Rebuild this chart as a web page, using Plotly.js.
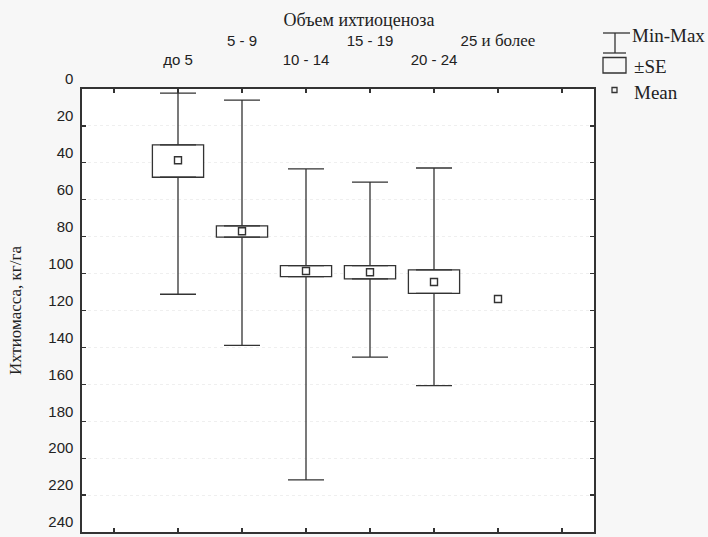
<!DOCTYPE html>
<html><head><meta charset="utf-8">
<script src="https://cdn.plot.ly/plotly-3.0.1.min.js"></script>
<style>html,body{margin:0;padding:0;background:#f7f7f7}</style>
</head><body><div id="chart" style="width:708px;height:537px"></div>
<script>
// ---- data ----
const categories = ['до 5', '5 - 9', '10 - 14', '15 - 19', '20 - 24', '25 и более'];
const minValues  = [2.2, 6.0, 43.3, 50.4, 42.8, null];
const seLow      = [30.3, 74.1, 95.7, 95.7, 98.0, null];
const meanValues = [38.6, 77.1, 98.6, 99.3, 104.6, 113.8];
const seHigh     = [47.8, 80.2, 101.7, 102.9, 110.7, null];
const maxValues  = [111.2, 138.9, 211.8, 145.3, 160.7, null];
const yTickValues = [0, 20, 40, 60, 80, 100, 120, 140, 160, 180, 200, 220, 240];

const SERIF = 'Liberation Serif, Times New Roman, serif';
const SANS = 'Liberation Sans, Arial, sans-serif';
const INK = '#333333';

const xPos = categories.map((c, i) => i + 1);
const idx = categories.map((c, i) => i).filter(i => seLow[i] !== null);

const tickText = [''].concat(categories.map((c, i) => {
  let t = c;
  if (c.indexOf(' и ') > -1) {
    const parts = c.split(' и ');
    t = parts[0] + '<span style="font-family:Liberation Serif;font-size:17px"> и ' + parts[1] + '</span>';
  }
  return (i % 2 === 1) ? t + '<br>&nbsp;' : t;
})).concat(['']);

const errStyle = {type: 'data', symmetric: false, width: 18, thickness: 1.3, color: INK};

const traces = [
  // ±SE boxes
  {
    type: 'bar',
    x: idx.map(i => xPos[i]),
    base: idx.map(i => seLow[i]),
    y: idx.map(i => seHigh[i] - seLow[i]),
    width: 0.8,
    marker: {color: '#ffffff', line: {color: INK, width: 1.3}},
    hoverinfo: 'skip', showlegend: false
  },
  // upper whiskers (towards Min)
  {
    type: 'scatter', mode: 'markers',
    x: idx.map(i => xPos[i]),
    y: idx.map(i => seLow[i]),
    marker: {size: 1, opacity: 0},
    error_y: Object.assign({}, errStyle, {
      array: idx.map(i => 0),
      arrayminus: idx.map(i => seLow[i] - minValues[i])
    }),
    hoverinfo: 'skip', showlegend: false
  },
  // lower whiskers (towards Max)
  {
    type: 'scatter', mode: 'markers',
    x: idx.map(i => xPos[i]),
    y: idx.map(i => seHigh[i]),
    marker: {size: 1, opacity: 0},
    error_y: Object.assign({}, errStyle, {
      array: idx.map(i => maxValues[i] - seHigh[i]),
      arrayminus: idx.map(i => 0)
    }),
    hoverinfo: 'skip', showlegend: false
  },
  // means
  {
    type: 'scatter', mode: 'markers',
    x: xPos, y: meanValues,
    marker: {symbol: 'square-open', size: 7, color: INK, line: {width: 1.4, color: INK}},
    hoverinfo: 'skip', showlegend: false
  }
];

// legend drawn in pixel space converted to paper
const L = 82, T = 89, W = 512, H = 443;
const px = x => (x - L) / W;
const py = y => (T + H - y) / H;
const lineShape = (x0, y0, x1, y1) => ({type: 'line', xref: 'paper', yref: 'paper',
  x0: px(x0), y0: py(y0), x1: px(x1), y1: py(y1), line: {color: INK, width: 1.3}});

const shapes = [
  lineShape(603, 33, 630, 33),
  lineShape(615, 33, 615, 53),
  lineShape(603, 53, 626, 53),
  {type: 'rect', xref: 'paper', yref: 'paper', x0: px(603), y0: py(57.5), x1: px(626), y1: py(73),
   line: {color: INK, width: 1.3}, fillcolor: 'rgba(0,0,0,0)'},
  {type: 'rect', xref: 'paper', yref: 'paper', x0: px(612), y0: py(87.5), x1: px(617), y1: py(92.5),
   line: {color: INK, width: 1.3}, fillcolor: 'rgba(0,0,0,0)'}
];

const legendText = (txt, x, y) => ({text: txt, xref: 'paper', yref: 'paper', x: px(x), y: py(y),
  xanchor: 'left', yanchor: 'middle', showarrow: false, font: {family: SERIF, size: 19, color: '#222'}});

const annotations = [
  legendText('Min-Max', 630, 35),
  legendText('±SE', 632, 66),
  legendText('Mean', 632, 92)
];

const layout = {
  width: 708, height: 537,
  margin: {l: L, r: 708 - L - W, t: T, b: 537 - T - H},
  paper_bgcolor: '#f7f7f7',
  plot_bgcolor: '#ffffff',
  showlegend: false,
  bargap: 0,
  title: {text: 'Объем ихтиоценоза', x: 359 / 708, xanchor: 'center', y: 1 - 20 / 537, yanchor: 'middle',
          yref: 'container', xref: 'container', font: {family: SERIF, size: 18, color: '#222'}},
  xaxis: {
    side: 'top', range: [-0.5, 7.5], tickmode: 'array',
    tickvals: [0, 1, 2, 3, 4, 5, 6, 7], ticktext: tickText,
    ticks: 'inside', ticklen: 4, tickwidth: 1.2, tickcolor: INK,
    showline: true, linecolor: INK, linewidth: 1.6, mirror: 'ticks',
    showgrid: false, zeroline: false, tickangle: 0,
    ticklabelstandoff: 16,
    tickfont: {family: SANS, size: 15, color: '#222'}
  },
  yaxis: {
    range: [240, 0], tickmode: 'array', tickvals: yTickValues,
    ticks: 'inside', ticklen: 4, tickwidth: 1.2, tickcolor: INK,
    showline: true, linecolor: INK, linewidth: 1.6, mirror: 'ticks',
    showgrid: true, gridcolor: '#efefef', griddash: 'dot', gridwidth: 1, zeroline: false,
    ticklabelshift: 10,
    ticklabelstandoff: 4,
    tickfont: {family: SANS, size: 15, color: '#222'},
    title: {text: 'Ихтиомасса, кг/га', standoff: 22, font: {family: SERIF, size: 17, color: '#222'}}
  },
  shapes: shapes,
  annotations: annotations
};

Plotly.newPlot('chart', traces, layout, {staticPlot: true, displayModeBar: false});
</script>
</body></html>
